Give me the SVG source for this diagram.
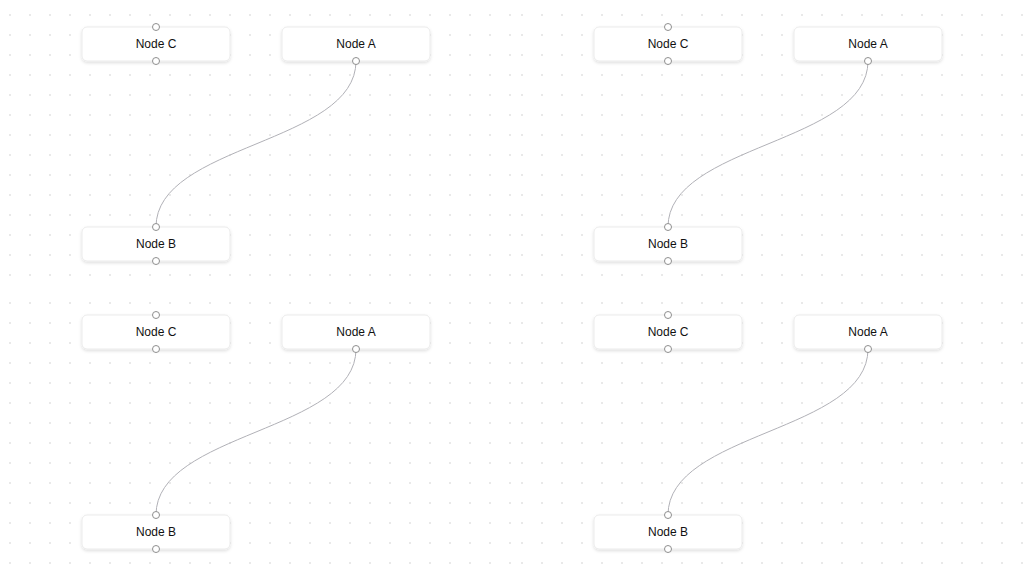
<svg xmlns="http://www.w3.org/2000/svg" width="1024" height="576" viewBox="0 0 1024 576">
<defs>
<pattern id="dots" patternUnits="userSpaceOnUse" width="20" height="20">
<circle cx="10" cy="15" r="0.8" fill="#cccccc"/>
</pattern>
<filter id="sh" x="-10%" y="-30%" width="120%" height="180%">
<feDropShadow dx="0" dy="1.5" stdDeviation="1.8" flood-color="#000" flood-opacity="0.13"/>
</filter>
<g id="panel">
<rect width="512" height="288" fill="url(#dots)"/>
<g class="connectors">
<path class="edge" d="M356,61 C356,144 156,144 156,227"/>
</g>
<g class="node-c">
<rect class="box" x="82" y="27" width="148" height="34" rx="5"/>
<text class="lbl" x="156" y="48">Node C</text>
<circle class="hd" cx="156" cy="27" r="3.5"/>
<circle class="hd" cx="156" cy="61" r="3.5"/>
</g>
<g class="node-a">
<rect class="box" x="282" y="27" width="148" height="34" rx="5"/>
<text class="lbl" x="356" y="48">Node A</text>
<circle class="hd" cx="356" cy="61" r="3.5"/>
</g>
<g class="node-b">
<rect class="box" x="82" y="227" width="148" height="34" rx="5"/>
<text class="lbl" x="156" y="248">Node B</text>
<circle class="hd" cx="156" cy="227" r="3.5"/>
<circle class="hd" cx="156" cy="261" r="3.5"/>
</g>
</g>
</defs>
<style>
.box{fill:#fff;stroke:#ebebeb;stroke-width:1;filter:url(#sh)}
.lbl{font-family:"Liberation Sans",Arial,sans-serif;font-size:12px;fill:#111;text-anchor:middle}
.hd{fill:#fff;stroke:#8f8f8f;stroke-width:1}
.edge{fill:none;stroke:#b1b1b7;stroke-width:1}
</style>
<rect width="1024" height="576" fill="#fff"/>
<g id="panel-top-left" transform="translate(0,0)"><use href="#panel"/></g>
<g id="panel-top-right" transform="translate(512,0)"><use href="#panel"/></g>
<g id="panel-bottom-left" transform="translate(0,288)"><use href="#panel"/></g>
<g id="panel-bottom-right" transform="translate(512,288)"><use href="#panel"/></g>
</svg>
